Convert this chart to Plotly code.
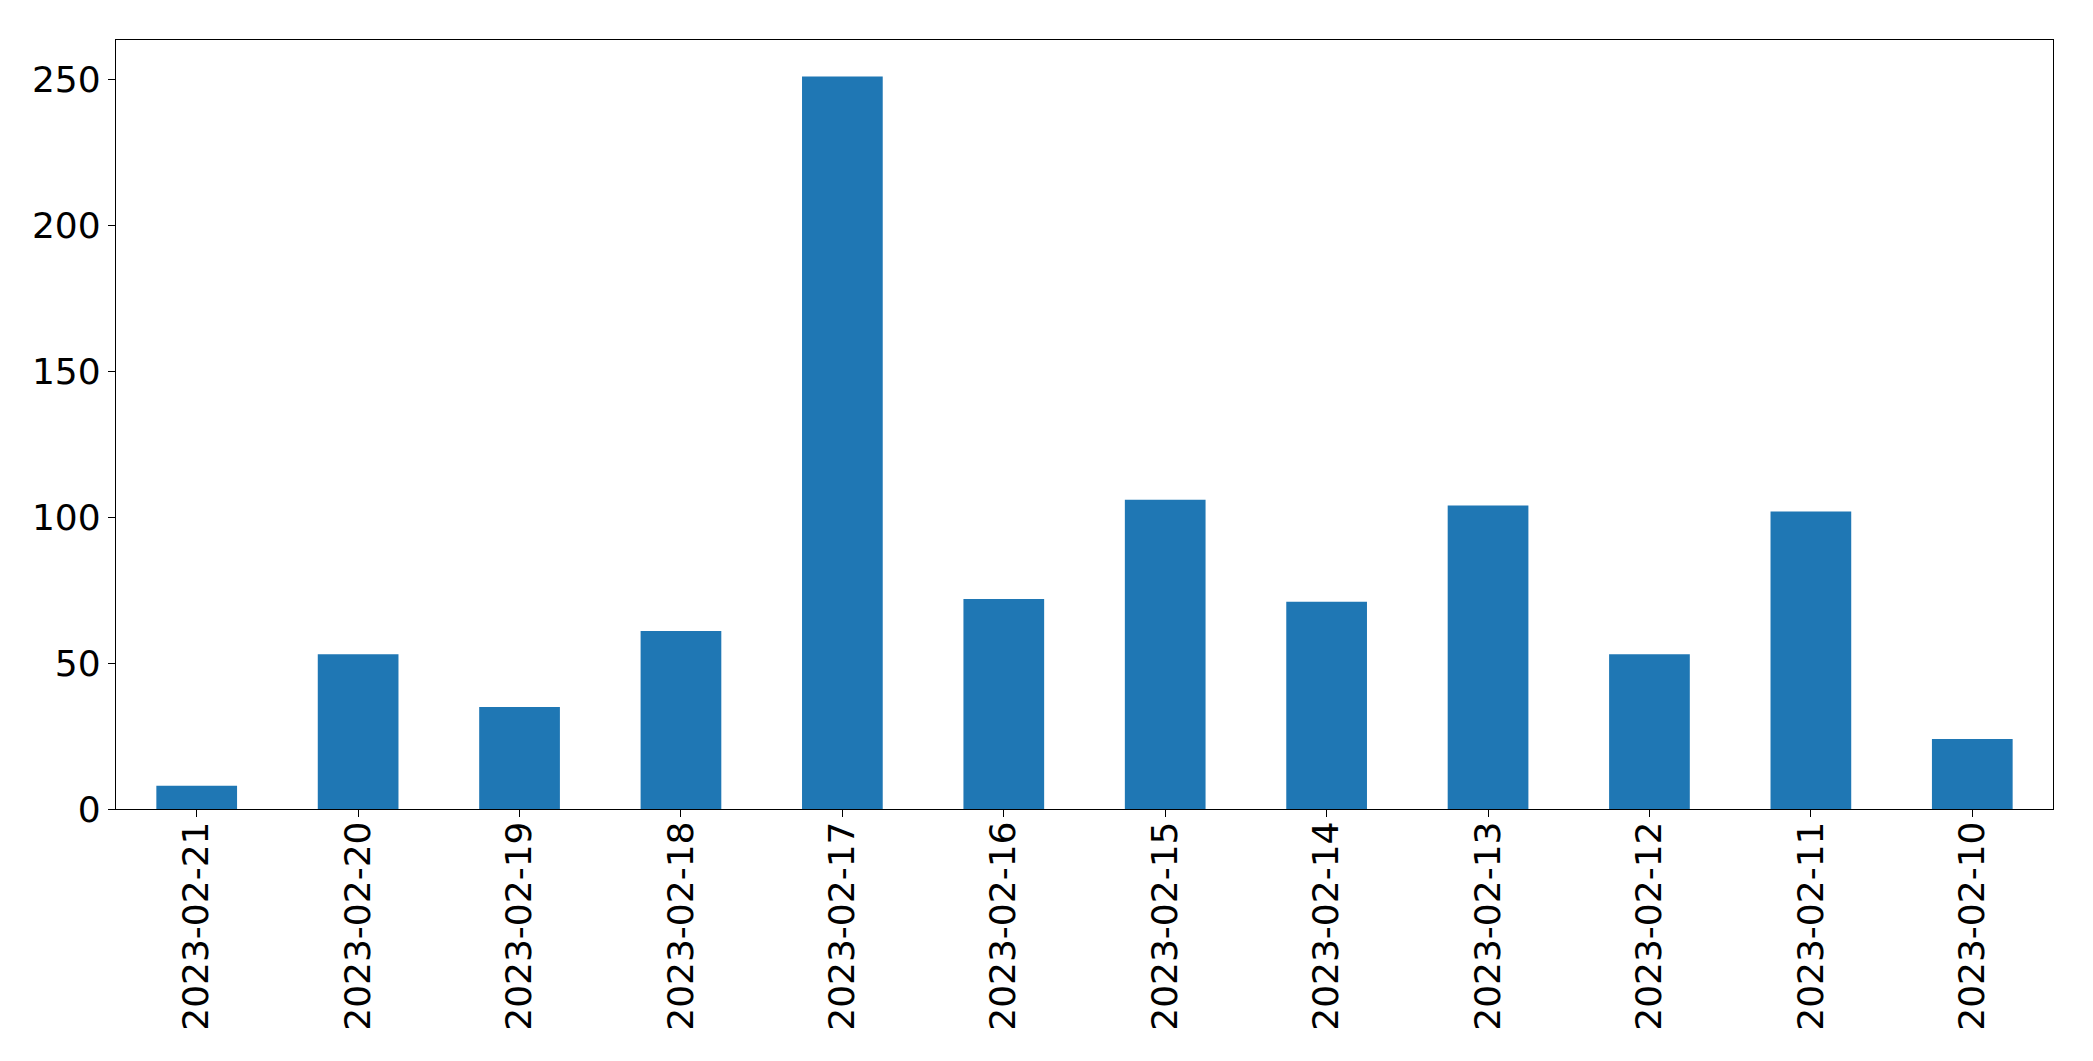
import plotly.graph_objects as go

dates = ["2023-02-21", "2023-02-20", "2023-02-19", "2023-02-18", "2023-02-17", "2023-02-16",
         "2023-02-15", "2023-02-14", "2023-02-13", "2023-02-12", "2023-02-11", "2023-02-10"]
counts = [8, 53, 35, 61, 251, 72, 106, 71, 104, 53, 102, 24]
y_ticks = [0, 50, 100, 150, 200, 250]

fig = go.Figure(go.Bar(x=list(range(len(dates))), y=counts, width=0.5,
                       marker=dict(color="#1f77b4", line=dict(width=0))))

fig.update_layout(
    width=2077, height=1045,
    margin=dict(l=108, r=32, t=32, b=244),
    plot_bgcolor="white", paper_bgcolor="white",
    font=dict(family="DejaVu Sans", size=36, color="black"),
    showlegend=False,
)
fig.update_xaxes(
    range=[-0.5, len(dates) - 0.5], automargin=False,
    tickmode="array", tickvals=list(range(len(dates))), ticktext=dates,
    tickangle=-90, ticks="outside", ticklen=7, tickwidth=1.3, tickcolor="black",
    ticklabelstandoff=-10,
    showline=True, linecolor="black", linewidth=1.3, mirror=True,
    showgrid=False, zeroline=False,
)
fig.update_yaxes(
    range=[0, max(counts) * 1.05], automargin=False,
    tickmode="array", tickvals=y_ticks,
    ticks="outside", ticklen=7, tickwidth=1.3, tickcolor="black",
    showline=True, linecolor="black", linewidth=1.3, mirror=True,
    showgrid=False, zeroline=False,
)

fig.write_html("out.html")
